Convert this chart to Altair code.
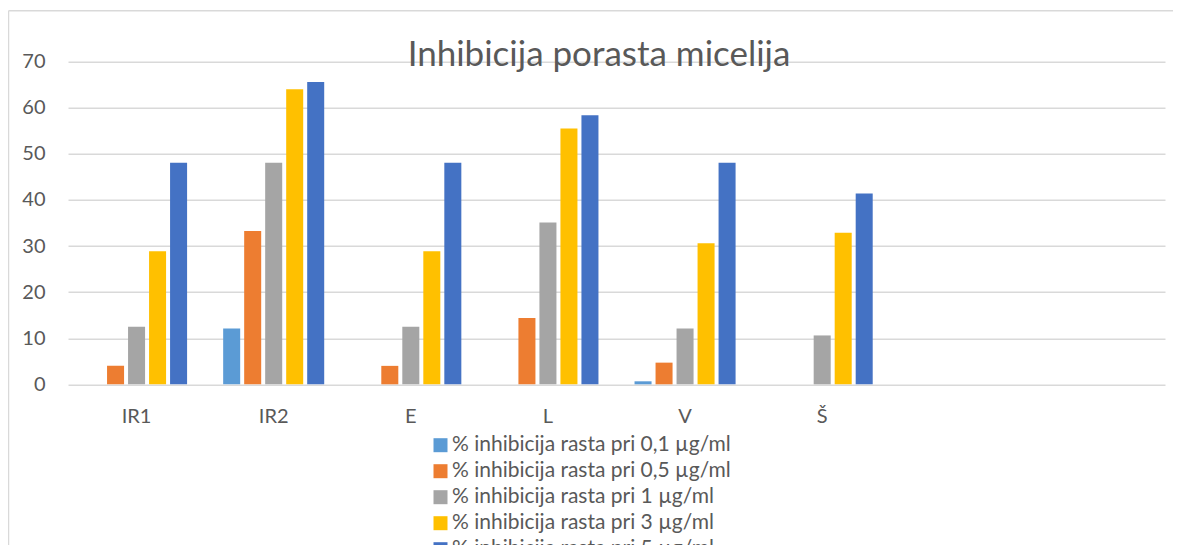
import altair as alt
import pandas as pd

title_text = "Inhibicija porasta micelija"
categories = ["IR1", "IR2", "E", "L", "V", "Š"]
empty_slots = [" ", "  "]
series = [
    "% inhibicija rasta pri 0,1 µg/ml",
    "% inhibicija rasta pri 0,5 µg/ml",
    "% inhibicija rasta pri 1 µg/ml",
    "% inhibicija rasta pri 3 µg/ml",
    "% inhibicija rasta pri 5 µg/ml",
]
colors = ["#5B9BD5", "#ED7D31", "#A5A5A5", "#FFC000", "#4472C4"]

s01 = [0, 12.1, 0, 0, 0.65, 0]
s05 = [4.0, 33.25, 4.0, 14.4, 4.7, 0]
s1 = [12.5, 48.1, 12.5, 35.1, 12.1, 10.6]
s3 = [28.85, 64.0, 28.85, 55.5, 30.6, 32.9]
s5 = [48.1, 65.6, 48.1, 58.4, 48.1, 41.4]
values = [s01, s05, s1, s3, s5]

rows = []
for si, name in enumerate(series):
    for ci, cat in enumerate(categories):
        rows.append({"cat": cat, "series": name, "value": values[si][ci]})
df = pd.DataFrame(rows)

W = 1097
H = 322.6
TXT = "#595959"
GRID = "#D9D9D9"

bars = alt.Chart(df).mark_bar().encode(
    x=alt.X("cat:N", sort=categories + empty_slots,
            scale=alt.Scale(domain=categories + empty_slots, paddingInner=0.234, paddingOuter=0.117),
            axis=alt.Axis(title=None, domain=False, ticks=False, labelFontSize=20, labelFont="Lato",
                          labelColor=TXT, labelPadding=22, labelAngle=0, grid=False)),
    xOffset=alt.XOffset("series:N", sort=series,
                        scale=alt.Scale(domain=series, paddingInner=0.19, paddingOuter=0.095)),
    y=alt.Y("value:Q", scale=alt.Scale(domain=[0, 70], nice=False),
            axis=alt.Axis(title=None, values=[0, 10, 20, 30, 40, 50, 60, 70], domain=False, ticks=False,
                          tickSize=0, labelPadding=23, labelFontSize=20, labelFont="Lato", labelColor=TXT,
                          gridColor=GRID, gridWidth=1.5)),
    color=alt.Color("series:N", sort=series, scale=alt.Scale(domain=series, range=colors),
                    legend=alt.Legend(title=None, orient="none", legendX=362, legendY=373,
                                      symbolType="square", symbolSize=196, symbolStrokeWidth=0,
                                      labelFontSize=21, labelFont="Lato", labelColor=TXT,
                                      labelOffset=1, rowPadding=4.0, padding=0, symbolOffset=0,
                                      labelLimit=500)),
)

one = alt.Data(values=[{"t": title_text}])
border_left = alt.Chart(one).mark_rule(color=GRID, strokeWidth=1.5).encode(
    x=alt.value(-59.5), y=alt.value(-51), y2=alt.value(H + 170))
border_top = alt.Chart(one).mark_rule(color=GRID, strokeWidth=1.5).encode(
    x=alt.value(-59.5), x2=alt.value(W + 20), y=alt.value(-51))
title = alt.Chart(one).mark_text(fontSize=35, font="Lato", fontWeight=400, color=TXT,
                                 align="center", baseline="alphabetic").encode(
    text="t:N", x=alt.value(531), y=alt.value(4.6))

chart = alt.layer(bars, border_left, border_top, title).properties(
    width=W, height=H,
    autosize=alt.AutoSizeParams(type="none"),
    padding={"left": 60, "top": 53.7, "right": 8, "bottom": 160.7},
).configure_view(stroke=None)

chart.save("out.html", embed_options={"renderer": "svg", "actions": False})
